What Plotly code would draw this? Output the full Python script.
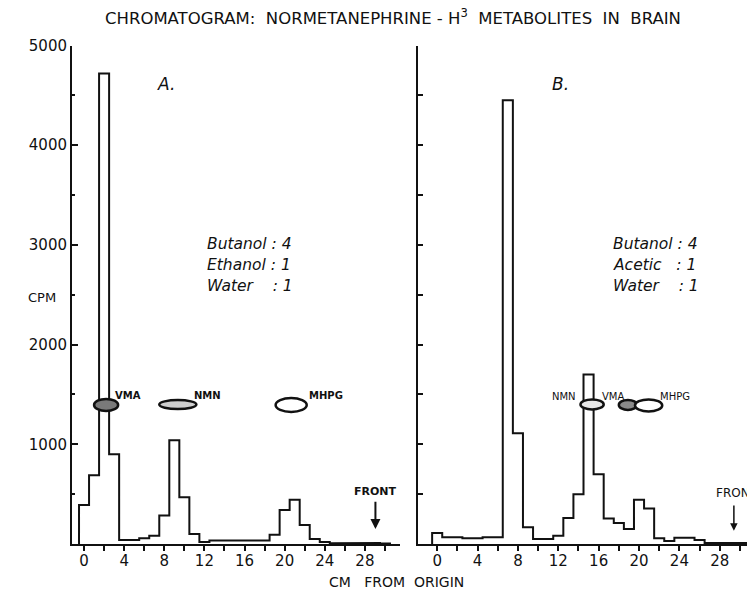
import plotly.graph_objects as go

# ---- data ----
CM_BINS_A = list(range(0, 31))
CPM_A = [390, 690, 4720, 900, 40, 40, 57, 83, 285, 1040, 470, 100, 20, 35, 40,
         40, 38, 35, 35, 94, 340, 443, 190, 50, 20, 8, 8, 15, 15, 10, 5]
CM_BINS_B = list(range(0, 32))
CPM_B = [110, 67, 67, 57, 57, 67, 67, 4450, 1110, 167, 50, 50, 83, 260, 500,
         1700, 700, 257, 210, 150, 443, 357, 57, 30, 63, 63, 40, 10, 10, 10, 10, 10]

X_TICKS = list(range(0, 31, 2))
X_LABELS = [str(v) if v % 4 == 0 else "" for v in X_TICKS]
Y_MAJOR = [0, 1000, 2000, 3000, 4000, 5000]
Y_LABELS = ["", "1000", "2000", "3000", "4000", "5000"]
Y_MINOR = [500, 1500, 2500, 3500, 4500]
Y_B_TICKS = list(range(0, 5001, 500))

SOLVENT_A = ["Butanol : 4", "Ethanol : 1", "Water&nbsp;&nbsp;&nbsp;&nbsp;: 1"]
SOLVENT_B = ["Butanol : 4", "Acetic&nbsp;&nbsp; : 1", "Water&nbsp;&nbsp;&nbsp; : 1"]

FONT = "DejaVu Sans"
INK = "#111111"
W, H = 747, 593


def step_xy(centers, vals):
    xs = [centers[0] - 0.5]
    ys = [0]
    for c, v in zip(centers, vals):
        xs += [c - 0.5, c + 0.5]
        ys += [v, v]
    xs.append(centers[-1] + 0.5)
    ys.append(0)
    return xs, ys


fig = go.Figure()
xa, ya = step_xy(CM_BINS_A, CPM_A)
xb, yb = step_xy(CM_BINS_B, CPM_B)
fig.add_trace(go.Scatter(x=xa, y=ya, mode="lines", line=dict(color=INK, width=2),
                         xaxis="x", yaxis="y", showlegend=False, hoverinfo="skip"))
fig.add_trace(go.Scatter(x=xb, y=yb, mode="lines", line=dict(color=INK, width=2),
                         xaxis="x2", yaxis="y2", showlegend=False, hoverinfo="skip"))

ydom = [1 - 544 / H, 1 - 45.5 / H]
common_x = dict(tickvals=X_TICKS, ticktext=X_LABELS, ticks="outside", ticklen=5,
                tickwidth=1.5, tickcolor=INK, showline=True, linewidth=2, linecolor=INK,
                showgrid=False, zeroline=False, automargin=False, ticklabelstandoff=-3,
                tickfont=dict(family=FONT, size=15, color=INK))

fig.update_layout(
    width=W, height=H,
    margin=dict(l=0, r=0, t=0, b=0, pad=0, autoexpand=False),
    paper_bgcolor="white", plot_bgcolor="white",
    xaxis=dict(domain=[72 / W, 400 / W], range=[-1.2, 31.5], anchor="y", **common_x),
    xaxis2=dict(domain=[418 / W, 1.0], range=[-1.9, 30.7], anchor="y2", **common_x),
    yaxis=dict(domain=ydom, range=[0, 5000], anchor="x", tickvals=Y_MAJOR, ticktext=Y_LABELS,
               ticks="inside", ticklen=6, tickwidth=1.5, tickcolor=INK, automargin=False,
               showline=True, linewidth=2, linecolor=INK, showgrid=False, zeroline=False,
               tickfont=dict(family=FONT, size=15, color=INK),
               minor=dict(tickvals=Y_MINOR, ticks="inside", ticklen=3, tickcolor=INK)),
    yaxis2=dict(domain=ydom, range=[0, 5000], anchor="x2", tickvals=Y_B_TICKS,
                showticklabels=False, ticks="inside", ticklen=5, tickwidth=1.5, tickcolor=INK,
                automargin=False,
                showline=True, linewidth=1.5, linecolor=INK, showgrid=False, zeroline=False),
)

ann = []
# title and axis titles (paper coords)
ann.append(dict(text="CHROMATOGRAM:  NORMETANEPHRINE - H<sup>3</sup>  METABOLITES  IN  BRAIN",
                x=393 / W, y=1 - 17 / H, xref="paper", yref="paper", showarrow=False,
                xanchor="center", yanchor="middle",
                font=dict(family=FONT, size=16.5, color=INK)))
ann.append(dict(text="CPM", x=42 / W, y=1 - 297 / H, xref="paper", yref="paper",
                xanchor="center", yanchor="middle",
                showarrow=False, font=dict(family=FONT, size=13, color=INK)))
ann.append(dict(text="CM&nbsp;&nbsp; FROM&nbsp; ORIGIN", x=396 / W, y=1 - 582 / H,
                xref="paper", yref="paper", showarrow=False,
                xanchor="center", yanchor="middle",
                font=dict(family=FONT, size=14, color=INK)))

# panel letters
ann.append(dict(text="<i>A.</i>", x=8.2, y=4614, xref="x", yref="y", showarrow=False,
                font=dict(family=FONT, size=17, color=INK)))
ann.append(dict(text="<i>B.</i>", x=12.2, y=4610, xref="x2", yref="y2", showarrow=False,
                font=dict(family=FONT, size=17, color=INK)))

# solvent systems
for ya_, txt in zip([3009, 2798, 2588], SOLVENT_A):
    ann.append(dict(text="<i>" + txt + "</i>", x=12.05, y=ya_, xref="x", yref="y",
                    xanchor="left", showarrow=False, font=dict(family=FONT, size=15.5, color=INK)))
for yb_, txt in zip([3010, 2800, 2590], SOLVENT_B):
    ann.append(dict(text="<i>" + txt + "</i>", x=17.2, y=yb_, xref="x2", yref="y2",
                    xanchor="left", showarrow=False, font=dict(family=FONT, size=15.5, color=INK)))

# spot labels
for txt, x in [("VMA", 4.4), ("NMN", 12.35), ("MHPG", 24.1)]:
    ann.append(dict(text="<b>" + txt + "</b>", x=x, y=1494, xref="x", yref="y",
                    showarrow=False, font=dict(family=FONT, size=10, color=INK)))
for txt, x in [("NMN", 12.6), ("VMA", 17.4), ("MHPG", 23.6)]:
    ann.append(dict(text=txt, x=x, y=1480, xref="x2", yref="y2",
                    showarrow=False, font=dict(family=FONT, size=10, color=INK)))

# FRONT markers
ann.append(dict(text="<b>FRONT</b>", x=29.1, y=522, xref="x", yref="y", showarrow=False,
                font=dict(family=FONT, size=11, color=INK)))
ann.append(dict(text="", x=29.05, y=150, ax=29.05, ay=440, xref="x", yref="y",
                axref="x", ayref="y", showarrow=True, arrowhead=2, arrowsize=1,
                arrowwidth=2, arrowcolor=INK))
ann.append(dict(text="FRONT", x=27.4, y=510, xref="x2", yref="y2", xanchor="left",
                showarrow=False, font=dict(family=FONT, size=12, color=INK)))
ann.append(dict(text="", x=29.4, y=133, ax=29.4, ay=400, xref="x2", yref="y2",
                axref="x2", ayref="y2", showarrow=True, arrowhead=2, arrowsize=1,
                arrowwidth=1.5, arrowcolor=INK))
fig.update_layout(annotations=ann)

# chromatogram spots
spots = [
    ("x", "y", 1.0, 3.4, 1334, 1455, "#7a7a7a"),
    ("x", "y", 7.5, 11.2, 1354, 1444, "#cfcfcf"),
    ("x", "y", 19.1, 22.2, 1324, 1464, "white"),
    ("x2", "y2", 14.2, 16.5, 1350, 1450, "#e6e6e6"),
    ("x2", "y2", 18.0, 19.8, 1345, 1445, "#8a8a8a"),
    ("x2", "y2", 19.6, 22.3, 1330, 1450, "white"),
]
for xr, yr, x0, x1, y0, y1, fc in spots:
    fig.add_shape(type="circle", xref=xr, yref=yr, x0=x0, x1=x1, y0=y0, y1=y1,
                  line=dict(color=INK, width=2.5), fillcolor=fc, layer="above")

fig.write_html("out.html")
